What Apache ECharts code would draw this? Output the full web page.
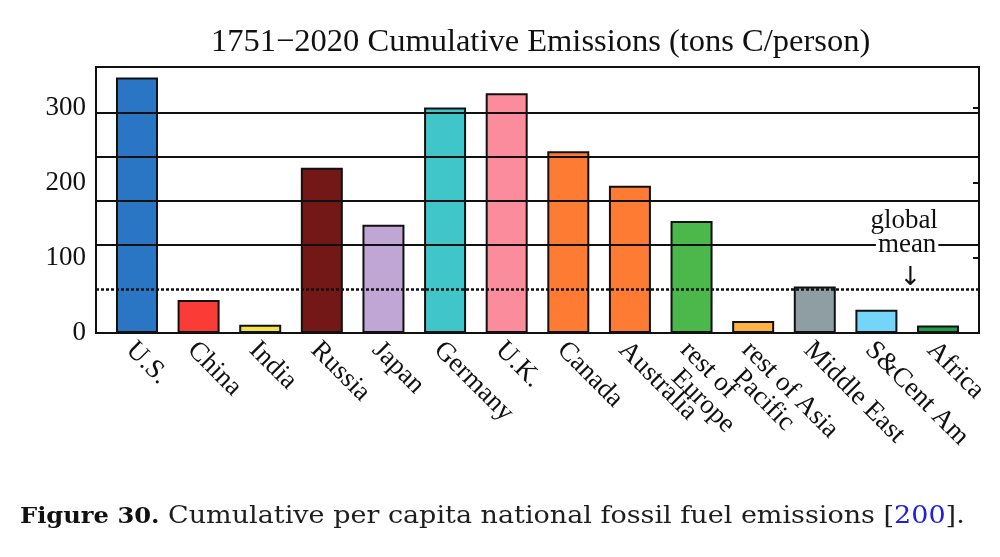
<!DOCTYPE html>
<html>
<head>
<meta charset="utf-8">
<script src="https://cdn.jsdelivr.net/npm/echarts@6/dist/echarts.min.js"></script>
<style>html,body{margin:0;padding:0;background:#fff}#c{width:1000px;height:557px}</style>
</head>
<body>
<div id="c"></div>
<script>
const categories = ['U.S.', 'China', 'India', 'Russia', 'Japan', 'Germany', 'U.K.', 'Canada', 'Australia', 'rest of\nEurope', 'rest of Asia\nPacific', 'Middle East', 'S&Cent Am', 'Africa'];
const values = [340, 44, 11, 220, 144, 300, 319, 242, 196, 149, 16, 62, 31, 10];
const colors = ['#2a76c4', '#fb3b35', '#f2e24c', '#731816', '#c0a6d4', '#40c6c8', '#fb8c9c', '#fd7b32', '#fd7b32', '#4ab84a', '#fdb341', '#8f9ea2', '#74d5f8', '#1f9e4a'];
const globalMean = 58.7;
const gridMultiples = [2, 3, 4, 5];
const yTicks = [0, 100, 200, 300];

const serif = '"Liberation Serif", "Times New Roman", serif';
const capFont = '"DejaVu Serif", serif';
const chart = echarts.init(document.getElementById('c'));
const option = {
  animation: false,
  backgroundColor: '#fff',
  title: {
    text: '1751\u22122020 Cumulative Emissions (tons C/person)',
    left: 206, top: 21,
    textStyle: { fontFamily: serif, fontSize: 32.5, fontWeight: 'normal', color: '#111' }
  },
  grid: { left: 96, right: 21, top: 67, bottom: 224, show: true, borderColor: '#111', borderWidth: 2, backgroundColor: 'transparent' },
  xAxis: {
    type: 'value', min: -0.665, max: 13.665,
    axisLine: { show: false }, axisTick: { show: false }, splitLine: { show: false },
    axisLabel: {
      customValues: categories.map((c, i) => i),
      formatter: v => {
        const parts = categories[Math.round(v)].split('\n');
        return parts.map((p, k) => k === 0 ? '{a|' + p + '}' : '{b|' + p + '}').join('\n');
      },
      rotate: -45, fontFamily: serif, fontSize: 27, color: '#111', margin: 6, lineHeight: 26,
      verticalAlign: 'top', padding: [-3, 0, 0, 0],
      rich: {
        a: { fontFamily: serif, fontSize: 27, color: '#111', lineHeight: 26 },
        b: { fontFamily: serif, fontSize: 27, color: '#111', lineHeight: 26, padding: [0, 0, 0, 13] }
      }
    }
  },
  yAxis: [{
    type: 'value', min: 0, max: 354, interval: 100, position: 'left',
    axisLine: { show: false },
    axisTick: { show: true, inside: true, length: 6, lineStyle: { color: '#111', width: 2 }, customValues: yTicks },
    axisLabel: { customValues: yTicks, fontFamily: serif, fontSize: 27, color: '#111', margin: 10 },
    splitLine: { show: false }
  }, {
    type: 'value', min: 0, max: 354, interval: 100, position: 'right',
    axisLine: { show: false },
    axisTick: { show: true, inside: true, length: 6, lineStyle: { color: '#111', width: 2 }, customValues: yTicks },
    axisLabel: { show: false },
    splitLine: { show: false }
  }],
  series: [{
    type: 'line', data: [], z: 1, silent: true,
    markLine: {
      symbol: 'none', silent: true, label: { show: false },
      data: gridMultiples.map(m => ({ yAxis: globalMean * m, lineStyle: { color: '#111', width: 1.8, type: 'solid' } }))
        .concat([{ yAxis: globalMean, lineStyle: { color: '#111', width: 2.5, type: [3, 2] } }])
    }
  }, {
    type: 'bar', z: 3, barWidth: 42,
    data: values.map((v, i) => ({ value: [i, v], itemStyle: { color: colors[i] } })),
    itemStyle: { borderColor: '#111', borderWidth: 2 }
  }]
};
chart.setOption(option);
const p1 = chart.convertToPixel({ xAxisIndex: 0, yAxisIndex: 0 }, [12.45, globalMean * 2]);
const p2 = chart.convertToPixel({ xAxisIndex: 0, yAxisIndex: 0 }, [12.55, globalMean]);
chart.setOption({
  graphic: [{
    type: 'text', x: 20, y: 505, scaleX: 1.125, scaleY: 1,
    style: {
      text: '{b|Figure 30.} Cumulative per capita national fossil fuel emissions [{l|200}].',
      fontFamily: capFont, fontSize: 24, fill: '#1e1e1e',
      rich: {
        b: { fontWeight: 'bold', fontFamily: capFont, fontSize: 21.5, fill: '#111' },
        l: { fill: '#2020e0', fontFamily: capFont, fontSize: 24 }
      }
    }
  }, {
    type: 'text', x: p1[0], y: p1[1] - 10, z: 10,
    style: { text: 'global', fontFamily: serif, fontSize: 27, fill: '#111', align: 'center', verticalAlign: 'bottom' }
  }, {
    type: 'text', x: p1[0] + 3, y: p1[1], z: 10,
    style: { text: 'mean', fontFamily: serif, fontSize: 27, fill: '#111', align: 'center', verticalAlign: 'middle', backgroundColor: '#fff', padding: [0, 2, 0, 2], lineHeight: 22 }
  }, {
    type: 'text', x: p2[0], y: p2[1] + 2, z: 10,
    style: { text: '\u2193', fontFamily: '"DejaVu Sans", sans-serif', fontSize: 26, fill: '#111', align: 'center', verticalAlign: 'bottom' }
  }]
});
</script>
</body>
</html>
